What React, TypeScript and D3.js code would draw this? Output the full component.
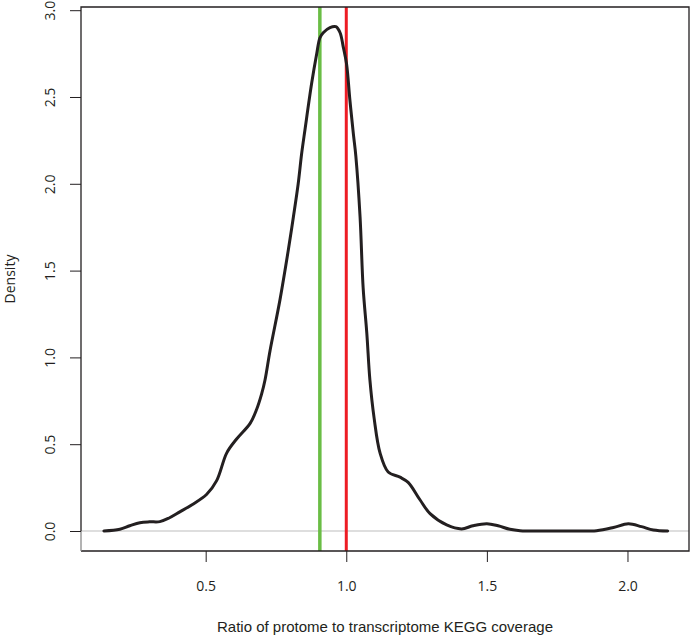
import React, { useEffect, useRef } from 'react';
import * as d3 from 'd3';

// density estimate
const ratioX = [
  0.138, 0.195, 0.23, 0.266, 0.3, 0.337, 0.37, 0.408, 0.45, 0.503, 0.539, 0.575, 0.61, 0.658,
  0.681, 0.699, 0.711, 0.729, 0.764, 0.794, 0.812, 0.829, 0.841, 0.853, 0.877, 0.895, 0.906,
  0.918, 0.942, 0.963, 0.978, 0.989, 1.001, 1.013, 1.025, 1.034, 1.049, 1.06, 1.073, 1.084,
  1.099, 1.12, 1.149, 1.191, 1.22, 1.262, 1.298, 1.357, 1.41, 1.45, 1.5, 1.54, 1.582, 1.618,
  1.7, 1.8, 1.89, 1.95, 2.003, 2.05, 2.092, 2.143,
];
const densityY = [
  0, 0.01, 0.03, 0.048, 0.053, 0.054, 0.075, 0.11, 0.15, 0.21, 0.29, 0.45, 0.53, 0.62,
  0.7, 0.79, 0.87, 1.04, 1.33, 1.62, 1.81, 2.0, 2.17, 2.31, 2.58, 2.75, 2.84,
  2.87, 2.9, 2.905, 2.87, 2.79, 2.69, 2.48, 2.29, 2.16, 1.81, 1.4, 1.14, 0.87,
  0.65, 0.45, 0.34, 0.31, 0.28, 0.18, 0.1, 0.035, 0.012, 0.03, 0.042, 0.03, 0.01, 0.002,
  0, 0, 0.002, 0.02, 0.042, 0.025, 0.006, 0,
];
const xTicks = [0.5, 1.0, 1.5, 2.0];
const yTicks = [0, 0.5, 1.0, 1.5, 2.0, 2.5, 3.0];
const greenLine = 0.906;
const redLine = 1.0;

const App = () => {
  const svgRef = useRef<SVGSVGElement | null>(null);

  useEffect(() => {
    const width = 690;
    const height = 639;
    const left = 81;
    const right = 689;
    const top = 7;
    const bottom = 551;
    const tickFont = "'Open Sans', sans-serif";

    const x = d3.scaleLinear().domain([0.0566, 2.2188]).range([left, right]);
    const y = d3.scaleLinear().domain([-0.1152, 3.0184]).range([bottom, top]);

    const svg = d3.select(svgRef.current)
      .attr("width", width)
      .attr("height", height)
      .attr("viewBox", [0, 0, width, height]);
    svg.selectAll("*").remove();

    // zero line
    svg.append("line")
      .attr("x1", left).attr("x2", right)
      .attr("y1", y(0)).attr("y2", y(0))
      .attr("stroke", "#bdbdbd")
      .attr("stroke-width", 1);

    // reference lines
    svg.append("line")
      .attr("x1", x(greenLine)).attr("x2", x(greenLine))
      .attr("y1", top).attr("y2", bottom)
      .attr("stroke", "#6abd45")
      .attr("stroke-width", 3.5);
    svg.append("line")
      .attr("x1", x(redLine)).attr("x2", x(redLine))
      .attr("y1", top).attr("y2", bottom)
      .attr("stroke", "#ed1c24")
      .attr("stroke-width", 3);

    const line = d3.line<number>()
      .x((d, i) => x(ratioX[i]))
      .y((d) => y(d))
      .curve(d3.curveCatmullRom.alpha(0.5));

    svg.append("path")
      .datum(densityY)
      .attr("fill", "none")
      .attr("stroke", "#231f20")
      .attr("stroke-width", 3)
      .attr("stroke-linejoin", "round")
      .attr("stroke-linecap", "round")
      .attr("d", line);

    // frame
    svg.append("path")
      .attr("d", `M${left},${y(0)}V${top}H${right}V${bottom}H${left}`)
      .attr("fill", "none")
      .attr("stroke", "#231f20")
      .attr("stroke-width", 1.3);
    svg.append("line")
      .attr("x1", left).attr("x2", left)
      .attr("y1", y(0)).attr("y2", bottom)
      .attr("stroke", "#8a8a8a")
      .attr("stroke-width", 1.3);

    svg.append("g")
      .attr("transform", `translate(0,${bottom})`)
      .call(d3.axisBottom(x).tickValues(xTicks).tickSize(11).tickFormat(d3.format(".1f")))
      .call(g => g.select(".domain").remove())
      .call(g => g.selectAll(".tick line").attr("stroke", "#231f20"))
      .call(g => g.selectAll(".tick text")
        .attr("y", 40)
        .attr("dy", 0)
        .attr("fill", "#231f20")
        .attr("font-family", tickFont)
        .attr("font-size", 14));

    svg.append("g")
      .attr("transform", `translate(${left},0)`)
      .call(d3.axisLeft(y).tickValues(yTicks).tickSize(11).tickFormat(d3.format(".1f")))
      .call(g => g.select(".domain").remove())
      .call(g => g.selectAll(".tick line").attr("stroke", "#231f20"))
      .call(g => g.selectAll(".tick text")
        .attr("x", null)
        .attr("dy", 0)
        .attr("text-anchor", "middle")
        .attr("transform", "translate(-26,0) rotate(-90)")
        .attr("fill", "#231f20")
        .attr("font-family", tickFont)
        .attr("font-size", 14));

    svg.append("text")
      .attr("x", (left + right) / 2)
      .attr("y", 632)
      .attr("text-anchor", "middle")
      .attr("fill", "#231f20")
      .attr("font-family", "'Liberation Sans', Arial, sans-serif")
      .attr("font-size", 15)
      .text("Ratio of protome to transcriptome KEGG coverage");

    svg.append("text")
      .attr("transform", `translate(15,${(top + bottom) / 2}) rotate(-90)`)
      .attr("text-anchor", "middle")
      .attr("fill", "#231f20")
      .attr("font-family", tickFont)
      .attr("font-size", 14)
      .text("Density");
  }, []);

  return (
    <div>
      <svg ref={svgRef} style={{ position: 'absolute', left: 0, top: 0, background: '#fff' }}></svg>
    </div>
  );
};

export default App;
